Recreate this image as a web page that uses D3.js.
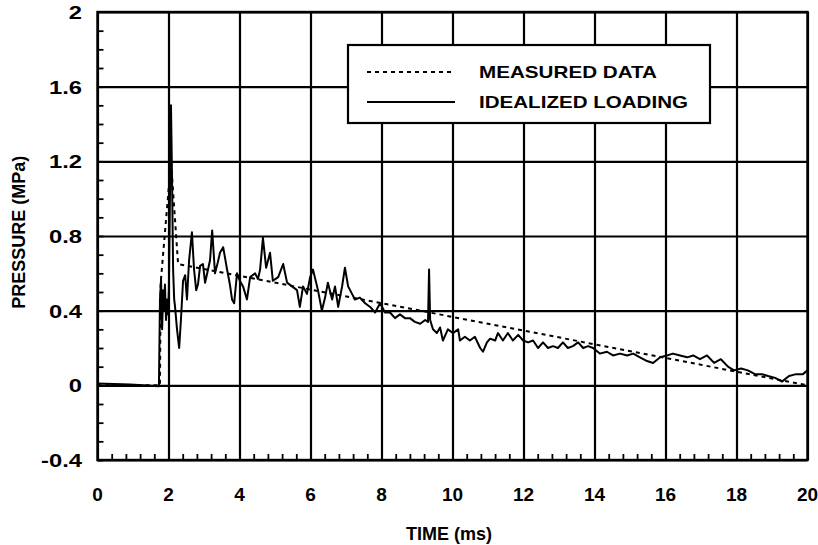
<!DOCTYPE html>
<html><head><meta charset="utf-8">
<script src="https://cdn.jsdelivr.net/npm/d3@7"></script>
<style>body{margin:0;background:#fff}svg{display:block}</style>
</head><body>
<svg id="chart" width="818" height="545"></svg>
<script>
// ---- data ----
const xTicks = [0, 2, 4, 6, 8, 10, 12, 14, 16, 18, 20];
const yTicks = [-0.4, 0, 0.4, 0.8, 1.2, 1.6, 2];
const yTickLabels = ["-0.4", "0", "0.4", "0.8", "1.2", "1.6", "2"];
const legendLabels = ["MEASURED DATA", "IDEALIZED LOADING"];
const xTitle = "TIME (ms)";
const yTitle = "PRESSURE (MPa)";

// dashed series (legend: MEASURED DATA)
const measuredTime = [0, 1.76, 1.78, 2.07, 2.27, 20];
const measuredPressure = [0, 0, 0.55, 1.2, 0.65, 0];

// solid series (legend: IDEALIZED LOADING)
const loadingTime = [0, 0.92, 1.73, 1.76, 1.79, 1.82, 1.85, 1.87, 1.90, 1.93, 1.96, 1.99, 2.01, 2.04, 2.07, 2.10, 2.13, 2.16, 2.18, 2.24, 2.30, 2.35, 2.41, 2.47, 2.52, 2.58, 2.66, 2.72, 2.78, 2.83, 2.89, 2.97, 3.03, 3.09, 3.17, 3.23, 3.31, 3.39, 3.45, 3.54, 3.65, 3.73, 3.79, 3.85, 3.93, 4.01, 4.10, 4.21, 4.30, 4.44, 4.52, 4.58, 4.66, 4.75, 4.86, 4.94, 5.09, 5.23, 5.34, 5.48, 5.62, 5.70, 5.79, 5.90, 5.99, 6.07, 6.21, 6.32, 6.41, 6.49, 6.61, 6.69, 6.78, 6.89, 6.97, 7.06, 7.17, 7.25, 7.39, 7.54, 7.68, 7.82, 7.96, 8.10, 8.24, 8.38, 8.52, 8.66, 8.80, 8.94, 9.09, 9.23, 9.31, 9.34, 9.37, 9.45, 9.56, 9.65, 9.73, 9.87, 10.01, 10.16, 10.21, 10.35, 10.49, 10.63, 10.78, 10.86, 10.97, 11.06, 11.20, 11.28, 11.42, 11.56, 11.70, 11.85, 11.99, 12.13, 12.27, 12.41, 12.55, 12.69, 12.83, 12.97, 13.11, 13.25, 13.39, 13.54, 13.68, 13.82, 13.96, 14.15, 14.35, 14.52, 14.72, 14.92, 15.09, 15.28, 15.48, 15.65, 15.85, 16.04, 16.21, 16.41, 16.61, 16.78, 16.97, 17.17, 17.37, 17.56, 17.76, 17.93, 18.13, 18.32, 18.52, 18.72, 18.89, 19.09, 19.28, 19.48, 19.68, 19.87, 20];
const loadingPressure = [0.01, 0.005, -0.005, 0.46, 0.57, 0.30, 0.51, 0.40, 0.54, 0.35, 0.46, 0.38, 0.51, 0.99, 1.50, 1.10, 0.62, 0.46, 0.43, 0.30, 0.20, 0.35, 0.56, 0.59, 0.46, 0.67, 0.82, 0.62, 0.51, 0.54, 0.64, 0.65, 0.55, 0.60, 0.67, 0.83, 0.60, 0.66, 0.71, 0.74, 0.62, 0.54, 0.46, 0.44, 0.60, 0.56, 0.53, 0.46, 0.58, 0.60, 0.57, 0.62, 0.79, 0.63, 0.71, 0.56, 0.58, 0.65, 0.55, 0.53, 0.51, 0.42, 0.53, 0.49, 0.58, 0.62, 0.51, 0.40, 0.47, 0.55, 0.46, 0.53, 0.42, 0.53, 0.63, 0.53, 0.49, 0.46, 0.47, 0.44, 0.42, 0.39, 0.44, 0.39, 0.39, 0.36, 0.38, 0.36, 0.36, 0.34, 0.33, 0.35, 0.34, 0.62, 0.35, 0.30, 0.28, 0.31, 0.24, 0.30, 0.28, 0.30, 0.24, 0.26, 0.24, 0.26, 0.20, 0.18, 0.23, 0.25, 0.24, 0.28, 0.24, 0.28, 0.24, 0.27, 0.24, 0.23, 0.24, 0.20, 0.23, 0.20, 0.21, 0.20, 0.23, 0.20, 0.21, 0.23, 0.20, 0.21, 0.20, 0.17, 0.18, 0.16, 0.17, 0.16, 0.17, 0.15, 0.13, 0.12, 0.15, 0.16, 0.17, 0.16, 0.15, 0.16, 0.14, 0.16, 0.12, 0.14, 0.10, 0.08, 0.09, 0.08, 0.06, 0.06, 0.05, 0.04, 0.02, 0.05, 0.06, 0.06, 0.08];

// ---- layout ----
const svg = d3.select("#chart");
const W = 818, H = 545;
const plot = {left: 97.5, right: 807.5, top: 12, bottom: 460};
const FONT = "'Liberation Sans', Arial, Helvetica, sans-serif";

const x = d3.scaleLinear().domain([0, 20]).range([plot.left, plot.right]);
const y = d3.scaleLinear().domain([-0.4, 2]).range([plot.bottom, plot.top]);

svg.append("rect").attr("width", W).attr("height", H).attr("fill", "#fff");

// major grid (vertical)
svg.append("g")
  .attr("transform", `translate(0,${plot.bottom})`)
  .call(d3.axisBottom(x).tickValues(xTicks).tickSize(-(plot.bottom - plot.top)).tickFormat(""))
  .call(g => g.select(".domain").remove())
  .call(g => g.selectAll("line").attr("stroke", "#000").attr("stroke-width", 2.2));

// major grid (horizontal)
svg.append("g")
  .attr("transform", `translate(${plot.left},0)`)
  .call(d3.axisLeft(y).tickValues(yTicks).tickSize(-(plot.right - plot.left)).tickFormat(""))
  .call(g => g.select(".domain").remove())
  .call(g => g.selectAll("line").attr("stroke", "#000").attr("stroke-width", 2.2));

// minor ticks
svg.append("g")
  .attr("transform", `translate(${plot.left},0)`)
  .call(d3.axisLeft(y).tickValues(d3.range(-4, 20).map(v => v / 10)).tickSize(-6).tickFormat(""))
  .call(g => g.select(".domain").remove())
  .call(g => g.selectAll("line").attr("stroke", "#000").attr("stroke-width", 1.8));
svg.append("g")
  .attr("transform", `translate(0,${plot.bottom})`)
  .call(d3.axisBottom(x).tickValues(d3.range(0, 50).map(v => v * 0.4)).tickSize(-6).tickFormat(""))
  .call(g => g.select(".domain").remove())
  .call(g => g.selectAll("line").attr("stroke", "#000").attr("stroke-width", 1.8));

// frame
svg.append("rect")
  .attr("x", plot.left).attr("y", plot.top)
  .attr("width", plot.right - plot.left).attr("height", plot.bottom - plot.top)
  .attr("fill", "none").attr("stroke", "#000").attr("stroke-width", 2.4);

// tick labels
svg.append("g").selectAll("text").data(xTicks).join("text")
  .attr("x", d => x(d)).attr("y", 501)
  .attr("text-anchor", "middle")
  .attr("font-family", FONT).attr("font-weight", "bold").attr("font-size", 19)
  .text(d => d);
svg.append("g").selectAll("text").data(yTicks).join("text")
  .attr("x", 82).attr("y", d => y(d) + 7)
  .attr("text-anchor", "end")
  .attr("font-family", FONT).attr("font-weight", "bold").attr("font-size", 19)
  .text((d, i) => yTickLabels[i])
  .each(function () {
    const w = this.getComputedTextLength();
    d3.select(this).attr("textLength", w * 1.25).attr("lengthAdjust", "spacingAndGlyphs");
  });

// axis titles
svg.append("text")
  .attr("x", 449).attr("y", 540)
  .attr("text-anchor", "middle")
  .attr("font-family", FONT).attr("font-weight", "bold").attr("font-size", 18)
  .text(xTitle);
svg.append("text")
  .attr("transform", `translate(25,${y(0.82)}) rotate(-90)`)
  .attr("text-anchor", "middle")
  .attr("font-family", FONT).attr("font-weight", "bold").attr("font-size", 18)
  .text(yTitle);

// series
const line = d3.line().x(d => x(d[0])).y(d => y(d[1]));
const measured = measuredTime.map((t, i) => [t, measuredPressure[i]]);
const loading = loadingTime.map((t, i) => [t, loadingPressure[i]]);

svg.append("path").datum(measured)
  .attr("d", line).attr("fill", "none")
  .attr("stroke", "#000").attr("stroke-width", 2).attr("stroke-dasharray", "4,4");
svg.append("path").datum(loading)
  .attr("d", line).attr("fill", "none")
  .attr("stroke", "#000").attr("stroke-width", 2).attr("stroke-linejoin", "round");

// legend
const lg = svg.append("g");
lg.append("rect").attr("x", 348).attr("y", 45).attr("width", 362).attr("height", 78)
  .attr("fill", "#fff").attr("stroke", "#000").attr("stroke-width", 2.2);
const legendStyles = ["4,4", null];
const legendY = [72, 102];
legendLabels.forEach((lab, i) => {
  lg.append("line").attr("x1", 367).attr("x2", 455).attr("y1", legendY[i]).attr("y2", legendY[i])
    .attr("stroke", "#000").attr("stroke-width", 2)
    .attr("stroke-dasharray", legendStyles[i]);
  lg.append("text").attr("x", 479).attr("y", legendY[i] + 6)
    .attr("font-family", FONT).attr("font-weight", "bold").attr("font-size", 17)
    .attr("textLength", i === 0 ? 178 : 209).attr("lengthAdjust", "spacingAndGlyphs")
    .text(lab);
});
</script>
</body></html>
